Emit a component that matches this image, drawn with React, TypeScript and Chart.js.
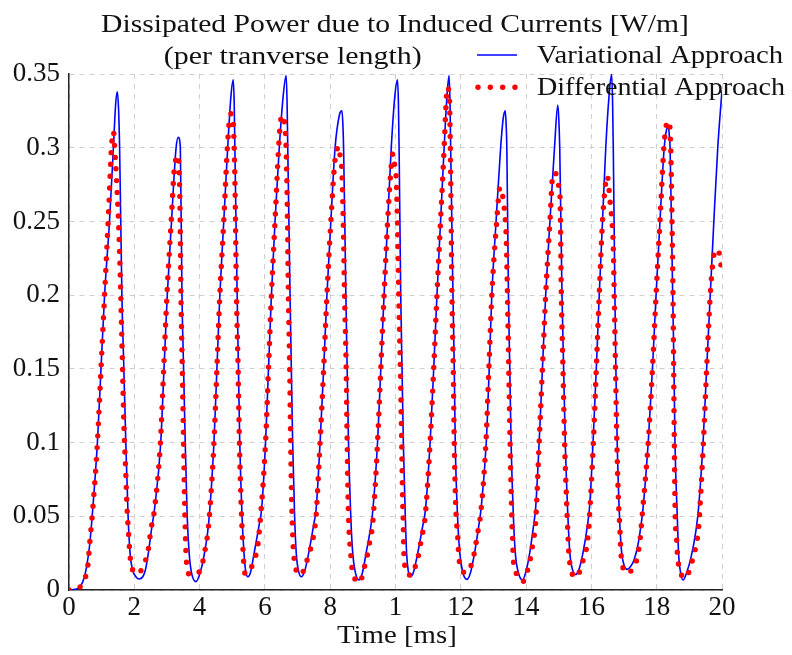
import React, { useEffect, useRef } from "react";
import { Chart, registerables } from "chart.js";

Chart.register(...registerables);

// ---------------- data ----------------
const titleLines = ["Dissipated Power due to Induced Currents [W/m]", "(per tranverse length)"];
const xAxisTitle = "Time [ms]";
const seriesNames = ["Variational Approach", "Differential Approach"];

const xTickLabels = ["0", "2", "4", "6", "8", "1", "12", "14", "16", "18", "20"];
const yTickLabels = ["0", "0.05", "0.1", "0.15", "0.2", "0.25", "0.3", "0.35"];

// Variational approach (time in ms, power in W/m)
const varTime = [
  0, 0.2, 0.35, 0.46, 0.54, 0.63, 0.71, 0.87, 0.98, 1.09, 1.24, 1.36, 1.43, 1.48, 1.52, 1.55, 1.62, 1.68, 1.74, 1.81, 1.87, 1.95, 2.05, 2.15, 2.26, 2.34, 2.43, 2.52, 2.62,
  2.81, 2.91, 3.01, 3.14, 3.28, 3.35, 3.41, 3.46, 3.51, 3.56, 3.62, 3.68, 3.75, 3.89, 4.02, 4.15, 4.28,
  4.44, 4.53, 4.62, 4.74, 4.86, 4.96, 5.03, 5.06, 5.08, 5.15, 5.19, 5.23, 5.3, 5.36, 5.41, 5.48, 5.56, 5.67, 5.83, 5.9,
  6.02, 6.11, 6.2, 6.31, 6.44, 6.56, 6.65, 6.68, 6.7, 6.77, 6.81, 6.85, 6.91, 6.96, 7.03, 7.12, 7.22, 7.34, 7.5, 7.57,
  7.69, 7.8, 7.9, 8.02, 8.15, 8.28, 8.36, 8.39, 8.41, 8.48, 8.52, 8.56, 8.63, 8.69, 8.77, 8.89, 8.99, 9.1, 9.25, 9.31,
  9.45, 9.55, 9.65, 9.76, 9.87, 9.98, 10.06, 10.09, 10.11, 10.16, 10.2, 10.24, 10.3, 10.34, 10.39, 10.46, 10.55, 10.68, 10.83, 10.92,
  11.06, 11.17, 11.27, 11.38, 11.49, 11.57, 11.64, 11.67, 11.69, 11.76, 11.8, 11.83, 11.9, 11.97, 12.06, 12.19, 12.3, 12.42, 12.56, 12.62,
  12.78, 12.87, 12.95, 13.08, 13.22, 13.3, 13.36, 13.39, 13.41, 13.46, 13.5, 13.54, 13.61, 13.67, 13.76, 13.89, 13.99, 14.11, 14.23, 14.29,
  14.4, 14.5, 14.6, 14.73, 14.87, 14.97, 15.0, 15.03, 15.1, 15.15, 15.2, 15.28, 15.34, 15.42, 15.52, 15.62, 15.74, 15.88, 15.95,
  16.05, 16.15, 16.24, 16.34, 16.44, 16.54, 16.62, 16.65, 16.67, 16.72, 16.75, 16.79, 16.86, 16.92, 17.0, 17.1, 17.2, 17.3, 17.42, 17.52, 17.58,
  17.74, 17.87, 17.98, 18.1, 18.23, 18.3, 18.36, 18.39, 18.41, 18.49, 18.53, 18.56, 18.63, 18.67, 18.73, 18.81, 18.92, 19.05, 19.2, 19.28,
  19.42, 19.53, 19.64, 19.75, 19.87, 20.0,
];
const varPower = [
  0, 0.0005, 0.0025, 0.008, 0.016, 0.03, 0.05, 0.1, 0.15, 0.2, 0.25, 0.3, 0.33, 0.338, 0.325, 0.3, 0.2, 0.15, 0.1, 0.05, 0.025, 0.0136, 0.009, 0.0075, 0.009, 0.0136, 0.025, 0.04, 0.055,
  0.1, 0.15, 0.2, 0.25, 0.3, 0.307, 0.3, 0.2, 0.15, 0.1, 0.05, 0.025, 0.012, 0.0057, 0.012, 0.025, 0.046,
  0.1, 0.15, 0.2, 0.25, 0.3, 0.335, 0.346, 0.33, 0.3, 0.2, 0.15, 0.1, 0.05, 0.025, 0.013, 0.009, 0.012, 0.025, 0.045, 0.055,
  0.1, 0.15, 0.2, 0.25, 0.3, 0.335, 0.349, 0.33, 0.3, 0.2, 0.15, 0.1, 0.05, 0.025, 0.013, 0.009, 0.013, 0.025, 0.045, 0.055,
  0.1, 0.15, 0.2, 0.25, 0.3, 0.322, 0.325, 0.315, 0.3, 0.2, 0.15, 0.1, 0.05, 0.025, 0.012, 0.0068, 0.012, 0.025, 0.044, 0.055,
  0.1, 0.15, 0.2, 0.25, 0.3, 0.335, 0.346, 0.33, 0.3, 0.2, 0.15, 0.1, 0.05, 0.025, 0.013, 0.009, 0.012, 0.025, 0.043, 0.055,
  0.1, 0.15, 0.2, 0.25, 0.3, 0.333, 0.349, 0.33, 0.3, 0.2, 0.15, 0.1, 0.05, 0.025, 0.012, 0.0072, 0.012, 0.025, 0.045, 0.055,
  0.1, 0.15, 0.2, 0.25, 0.3, 0.32, 0.325, 0.315, 0.3, 0.2, 0.15, 0.1, 0.05, 0.025, 0.012, 0.0068, 0.012, 0.025, 0.044, 0.055,
  0.1, 0.15, 0.2, 0.25, 0.3, 0.329, 0.32, 0.3, 0.2, 0.15, 0.1, 0.05, 0.025, 0.014, 0.0106, 0.014, 0.025, 0.044, 0.058,
  0.1, 0.15, 0.2, 0.25, 0.3, 0.335, 0.35, 0.33, 0.3, 0.2, 0.15, 0.1, 0.05, 0.027, 0.017, 0.014, 0.016, 0.02, 0.03, 0.044, 0.055,
  0.1, 0.15, 0.2, 0.25, 0.3, 0.312, 0.314, 0.307, 0.3, 0.2, 0.15, 0.1, 0.05, 0.025, 0.012, 0.0068, 0.012, 0.022, 0.04, 0.055,
  0.1, 0.15, 0.2, 0.25, 0.3, 0.339,
];

// Differential approach (time in ms, power in W/m)
const diffTime = [
  0, 0.35, 0.51, 0.58, 0.64, 0.71, 0.87, 0.98, 1.09, 1.22, 1.3, 1.36, 1.42, 1.48, 1.53, 1.58, 1.63, 1.68, 1.74, 1.78, 1.82, 1.85, 1.88, 1.95, 2.07, 2.2, 2.3, 2.41, 2.51, 2.62,
  2.8, 2.9, 3.0, 3.13, 3.23, 3.29, 3.33, 3.37, 3.4, 3.43, 3.47, 3.51, 3.54, 3.56, 3.58, 3.6, 3.65, 3.78, 3.92, 4.05, 4.15, 4.28,
  4.44, 4.53, 4.62, 4.74, 4.85, 4.92, 4.96, 5.01, 5.04, 5.08, 5.13, 5.18, 5.22, 5.27, 5.29, 5.31, 5.33, 5.35, 5.39, 5.47, 5.55, 5.68, 5.77, 5.81, 5.85,
  6.02, 6.11, 6.2, 6.31, 6.42, 6.48, 6.54, 6.6, 6.64, 6.68, 6.72, 6.76, 6.79, 6.82, 6.84, 6.86, 6.88, 6.92, 7.0, 7.09, 7.18, 7.25, 7.34, 7.45, 7.51, 7.56,
  7.69, 7.8, 7.9, 8.02, 8.14, 8.2, 8.26, 8.31, 8.36, 8.4, 8.44, 8.49, 8.52, 8.55, 8.57, 8.6, 8.63, 8.66, 8.73, 8.89, 9.02, 9.08, 9.16, 9.22, 9.28, 9.32,
  9.45, 9.55, 9.65, 9.76, 9.86, 9.92, 9.97, 10.02, 10.06, 10.1, 10.15, 10.19, 10.22, 10.24, 10.25, 10.27, 10.31, 10.4, 10.52, 10.63, 10.72, 10.78, 10.85, 10.91,
  11.06, 11.17, 11.27, 11.38, 11.49, 11.55, 11.59, 11.65, 11.68, 11.73, 11.77, 11.8, 11.84, 11.87, 11.9, 11.92, 11.94, 11.99, 12.1, 12.22, 12.36, 12.43, 12.49, 12.55, 12.61,
  12.77, 12.86, 12.95, 13.1, 13.2, 13.25, 13.29, 13.35, 13.39, 13.43, 13.47, 13.51, 13.55, 13.57, 13.59, 13.6, 13.62, 13.7, 13.9, 14.03, 14.12, 14.18, 14.25, 14.29,
  14.4, 14.5, 14.6, 14.73, 14.82, 14.87, 14.92, 15.0, 15.04, 15.08, 15.13, 15.18, 15.24, 15.27, 15.3, 15.33, 15.39, 15.54, 15.69, 15.78, 15.86, 15.93,
  16.06, 16.15, 16.24, 16.34, 16.43, 16.48, 16.52, 16.56, 16.6, 16.63, 16.67, 16.7, 16.74, 16.78, 16.83, 16.87, 16.9, 16.93, 17.03, 17.15, 17.27, 17.4, 17.46, 17.5, 17.53,
  17.74, 17.87, 17.98, 18.1, 18.22, 18.29, 18.34, 18.39, 18.43, 18.47, 18.5, 18.52, 18.54, 18.56, 18.57, 18.61, 18.64, 18.7, 18.83, 18.99, 19.09, 19.18, 19.25, 19.29,
  19.43, 19.53, 19.64, 19.7, 19.74, 19.83, 19.92, 19.97, 20.0,
];
const diffPower = [
  0, 0.0023, 0.009, 0.017, 0.033, 0.05, 0.1, 0.15, 0.2, 0.26, 0.3, 0.311, 0.292, 0.268, 0.243, 0.205, 0.16, 0.114, 0.079, 0.055, 0.04, 0.029, 0.021, 0.0136, 0.011, 0.013, 0.018, 0.025, 0.041, 0.055,
  0.1, 0.15, 0.2, 0.25, 0.287, 0.293, 0.295, 0.287, 0.26, 0.2, 0.15, 0.1, 0.06, 0.042, 0.027, 0.0186, 0.0113, 0.0102, 0.011, 0.015, 0.025, 0.045,
  0.1, 0.15, 0.2, 0.25, 0.3, 0.32, 0.323, 0.322, 0.313, 0.28, 0.2, 0.15, 0.1, 0.06, 0.0475, 0.036, 0.027, 0.019, 0.0113, 0.011, 0.0136, 0.021, 0.028, 0.036, 0.045,
  0.1, 0.15, 0.2, 0.25, 0.3, 0.318, 0.322, 0.317, 0.306, 0.27, 0.2, 0.15, 0.1, 0.06, 0.045, 0.033, 0.025, 0.017, 0.0115, 0.0102, 0.013, 0.017, 0.024, 0.032, 0.04, 0.048,
  0.1, 0.15, 0.2, 0.25, 0.29, 0.298, 0.301, 0.293, 0.283, 0.25, 0.2, 0.15, 0.1, 0.06, 0.045, 0.032, 0.024, 0.016, 0.009, 0.005, 0.0124, 0.019, 0.026, 0.034, 0.041, 0.05,
  0.1, 0.15, 0.2, 0.25, 0.285, 0.296, 0.289, 0.28, 0.25, 0.2, 0.15, 0.1, 0.06, 0.045, 0.03, 0.02, 0.014, 0.0102, 0.0102, 0.018, 0.025, 0.033, 0.041, 0.05,
  0.1, 0.15, 0.2, 0.25, 0.3, 0.33, 0.341, 0.334, 0.3, 0.2, 0.15, 0.1, 0.06, 0.046, 0.038, 0.03, 0.0226, 0.016, 0.012, 0.0124, 0.02, 0.027, 0.035, 0.043, 0.052,
  0.1, 0.15, 0.2, 0.25, 0.273, 0.272, 0.266, 0.255, 0.24, 0.2, 0.15, 0.1, 0.06, 0.043, 0.033, 0.025, 0.018, 0.0113, 0.0057, 0.0124, 0.02, 0.028, 0.037, 0.045,
  0.1, 0.15, 0.2, 0.25, 0.282, 0.283, 0.282, 0.274, 0.266, 0.2, 0.15, 0.1, 0.06, 0.044, 0.028, 0.02, 0.0124, 0.0086, 0.016, 0.023, 0.03, 0.046,
  0.1, 0.15, 0.2, 0.25, 0.275, 0.281, 0.277, 0.266, 0.258, 0.25, 0.233, 0.2, 0.15, 0.1, 0.06, 0.043, 0.027, 0.02, 0.0118, 0.012, 0.0147, 0.0215, 0.029, 0.036, 0.044,
  0.1, 0.15, 0.2, 0.25, 0.3, 0.315, 0.318, 0.317, 0.3, 0.25, 0.2, 0.15, 0.1, 0.06, 0.0475, 0.035, 0.0226, 0.0147, 0.008, 0.0124, 0.02, 0.0276, 0.036, 0.044,
  0.1, 0.15, 0.2, 0.218, 0.226, 0.231, 0.228, 0.22, 0.213,
];

// ---------------- styling / layout ----------------
const W = 792;
const H = 655;
const FONT_FAMILY = '"Liberation Serif", "Times New Roman", serif';
const FONT_SIZE = 26;
const TICK_FONT_SIZE = 27;
const TEXT_COLOR = "#111111";
const BLUE = "#0000ff";
const RED = "#ff0000";
const AREA = { left: 69, right: 722, top: 74, bottom: 590 };

const toPoints = (xs: number[], ys: number[]) => xs.map((x, i) => ({ x, y: ys[i] }));

function fitText(ctx: CanvasRenderingContext2D, text: string, left: number, right: number, baseline: number) {
  const m = ctx.measureText(text);
  const ink = m.actualBoundingBoxLeft + m.actualBoundingBoxRight;
  const sx = (right - left) / ink;
  ctx.save();
  ctx.translate(left + m.actualBoundingBoxLeft * sx, baseline);
  ctx.scale(sx, 1);
  ctx.fillText(text, 0, 0);
  ctx.restore();
}

const textPlugin = {
  id: "pgfTexts",
  afterDraw(chart: any) {
    const ctx: CanvasRenderingContext2D = chart.ctx;
    ctx.save();
    ctx.fillStyle = TEXT_COLOR;
    ctx.font = `${FONT_SIZE}px ${FONT_FAMILY}`;
    ctx.textAlign = "left";
    ctx.textBaseline = "alphabetic";
    fitText(ctx, titleLines[0], 101, 687, 31.5);
    fitText(ctx, titleLines[1], 165, 421, 63.5);
    fitText(ctx, xAxisTitle, 337, 455, 642.5);

    // legend
    ctx.strokeStyle = BLUE;
    ctx.lineWidth = 1.6;
    ctx.beginPath();
    ctx.moveTo(477, 55);
    ctx.lineTo(517, 55);
    ctx.stroke();
    fitText(ctx, seriesNames[0], 537, 783, 63.3);

    ctx.fillStyle = RED;
    for (let i = 0; i < 4; i++) {
      ctx.beginPath();
      ctx.arc(478 + i * 12.33, 87.3, 2.7, 0, Math.PI * 2);
      ctx.fill();
    }
    ctx.fillStyle = TEXT_COLOR;
    fitText(ctx, seriesNames[1], 537, 785, 95);
    ctx.restore();
  },
};

export default function App() {
  const ref = useRef<HTMLCanvasElement>(null);

  useEffect(() => {
    if (!ref.current) return;
    const tickFont = { family: FONT_FAMILY, size: TICK_FONT_SIZE };
    const chart = new Chart(ref.current, {
      type: "line",
      data: {
        datasets: [
          {
            label: seriesNames[0],
            data: toPoints(varTime, varPower),
            borderColor: BLUE,
            backgroundColor: BLUE,
            borderWidth: 1.6,
            pointRadius: 0,
            cubicInterpolationMode: "monotone",
            fill: false,
            order: 1,
          },
          {
            label: seriesNames[1],
            data: toPoints(diffTime, diffPower),
            borderColor: RED,
            backgroundColor: RED,
            borderWidth: 5.4,
            borderDash: [0, 11.8],
            borderCapStyle: "round",
            borderJoinStyle: "round",
            pointRadius: 0,
            cubicInterpolationMode: "monotone",
            fill: false,
            order: 0,
          },
        ],
      },
      options: {
        responsive: false,
        animation: false,
        devicePixelRatio: 1,
        events: [],
        layout: {
          padding: { top: AREA.top, right: W - AREA.right, left: 0, bottom: 0 },
        },
        plugins: {
          legend: { display: false },
          title: { display: false },
          tooltip: { enabled: false },
        },
        scales: {
          x: {
            type: "linear",
            min: 0,
            max: 20,
            afterFit: (scale: any) => {
              scale.height = H - AREA.bottom;
            },
            ticks: {
              stepSize: 2,
              autoSkip: false,
              maxRotation: 0,
              padding: 2,
              color: TEXT_COLOR,
              font: tickFont,
              callback: (_v: any, i: number) => xTickLabels[i],
            },
            grid: { color: "#cfcfcf", lineWidth: 1, drawTicks: false },
            border: { display: true, color: "#222222", width: 1.5, dash: [5, 5] },
          },
          y: {
            type: "linear",
            min: 0,
            max: 0.35,
            afterFit: (scale: any) => {
              scale.width = AREA.left;
            },
            ticks: {
              stepSize: 0.05,
              autoSkip: false,
              padding: 9,
              color: TEXT_COLOR,
              font: tickFont,
              callback: (_v: any, i: number) => yTickLabels[i],
            },
            grid: { color: "#cfcfcf", lineWidth: 1, drawTicks: false },
            border: { display: true, color: "#222222", width: 1.5, dash: [5, 5] },
          },
        },
      },
      plugins: [textPlugin],
    } as any);
    return () => chart.destroy();
  }, []);

  return (
    <div style={{ position: "fixed", left: 0, top: 0, width: W, height: H, background: "#ffffff" }}>
      <canvas ref={ref} width={W} height={H} style={{ display: "block" }} />
    </div>
  );
}
